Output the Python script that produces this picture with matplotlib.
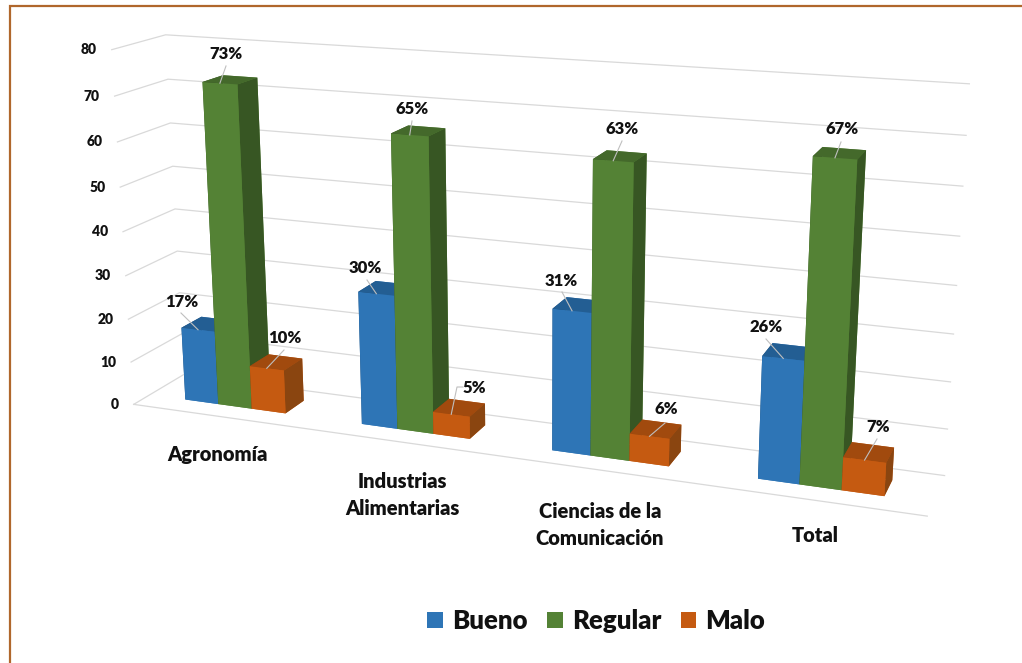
import matplotlib
matplotlib.use("Agg")
import matplotlib.pyplot as plt
from matplotlib.patches import Patch
from mpl_toolkits.mplot3d import proj3d

plt.rcParams["font.family"] = ["Lato", "DejaVu Sans"]
plt.rcParams["font.weight"] = 800

CATEGORIES = ["Agronomía", "Industrias\nAlimentarias", "Ciencias de la\nComunicación", "Total"]
SERIES = ["Bueno", "Regular", "Malo"]
BUENO = [17, 30, 31, 26]
REGULAR = [73, 65, 63, 67]
MALO = [10, 5, 6, 7]
Y_TICKS = list(range(0, 90, 10))

# front, top, right side
FACE_COLORS = {
    "Bueno": ("#2E75B6", "#235E93", "#1F4E79"),
    "Regular": ("#548235", "#44692B", "#375623"),
    "Malo": ("#C55A11", "#A14A0E", "#8A4510"),
}
GRID = "#D9D9D9"
BORDER = "#B0672C"
INK = "#111111"

# layout in reference pixels (x right, y down)
CAT_LABEL_XY = [(217, 455), (402, 495), (600, 525), (815, 535)]
VALUE_LABEL_XY = {
    "Bueno": [(182, 302), (365, 268), (561, 281), (766, 327)],
    "Regular": [(226, 54), (412, 109), (622, 129), (842, 129)],
    "Malo": [(285, 338), (474, 388), (666, 409), (878, 427)],
}
LEADER_START = {
    "Bueno": [(181, 313), (367, 280), (562, 292), (766, 339)],
    "Regular": [(226, 66), (412, 121), (622, 141), (841, 142)],
    "Malo": [(284, 350), (457, 387), (665, 423), (877, 439)],
}

# camera and bar placement fitted against the reference
ELEV, AZIM, ROLL, FOCAL = 15.6502, -68.9505, 0.1686, 0.3377
BOX = (4, 0.4924, 1.8177)
ZOOM = 0.8926
SHIFT_X, SHIFT_Y = -7.3534, -60.5321
BAR_START, BAR_W, BAR_FRONT, BAR_BACK = 0.2092, 0.1922, 0.3150, 0.7162


def make_axes(fig):
    """3D axes as a 1022 px square, moved so the frame lands on the reference."""
    left = SHIFT_X / 1022
    bottom = ((663 - 1022) / 2 - SHIFT_Y) / 663
    ax = fig.add_axes([left, bottom, 1, 1022 / 663], projection="3d")
    ax.computed_zorder = False
    ax.set_xlim(0, 4, view_margin=0)
    ax.set_ylim(0, 1, view_margin=0)
    ax.set_zlim(0, 80, view_margin=0)
    ax.view_init(ELEV, AZIM, ROLL)
    ax.set_box_aspect(BOX, zoom=ZOOM)
    ax.set_proj_type("persp", focal_length=FOCAL)
    ax.set_axis_off()
    return ax


def to_overlay(ax, overlay, x, y, z):
    """3D data point to overlay (reference pixel) coordinates."""
    px, py, _ = proj3d.proj_transform(x, y, z, ax.get_proj())
    disp = ax.transData.transform((px, py))
    return overlay.transData.inverted().transform(disp)


def draw_grid(ax):
    for z in Y_TICKS:
        ax.plot([0, 0, 4], [0, 1, 1], [z, z, z], color=GRID, lw=0.9, zorder=1)
    # front edge of the floor only, the right side stays open
    ax.plot([0, 4], [0, 0], [0, 0], color=GRID, lw=0.9, zorder=1)


def draw_bars(ax, overlay):
    values = {"Bueno": BUENO, "Regular": REGULAR, "Malo": MALO}
    order = 2
    for i in range(len(CATEGORIES)):
        for j, name in enumerate(SERIES):
            x = i + BAR_START + j * BAR_W
            front, top, side = FACE_COLORS[name]
            # bar3d face order: bottom, top, front, back, left, right
            ax.bar3d(
                x, BAR_FRONT, 0, BAR_W, BAR_BACK - BAR_FRONT, values[name][i],
                color=[front, top, front, front, side, side],
                shade=False, zorder=order, linewidth=0,
            )
            order += 1

            end = to_overlay(ax, overlay, x + BAR_W / 2, BAR_FRONT, values[name][i])
            start = LEADER_START[name][i]
            xs, ys = [start[0], end[0]], [start[1], end[1]]
            if name == "Malo" and i == 1:
                xs.insert(0, start[0] + 6)
                ys.insert(0, start[1])
            overlay.plot(xs, ys, color="#BFBFBF", lw=0.8, zorder=3)
            lx, ly = VALUE_LABEL_XY[name][i]
            overlay.text(lx, ly, f"{values[name][i]}%", ha="center", va="center",
                         fontsize=12, color=INK, zorder=4)


def draw_labels(ax, overlay):
    for z in Y_TICKS:
        x, y = to_overlay(ax, overlay, 0, 0, z)
        overlay.text(x - 15, y, str(z), ha="right", va="center", fontsize=10, color=INK)
    for name, (x, y) in zip(CATEGORIES, CAT_LABEL_XY):
        overlay.text(x, y, name, ha="center", va="center", fontsize=14.5,
                     color=INK, linespacing=1.55)


def main():
    fig = plt.figure(figsize=(10.22, 6.63), dpi=100, facecolor="white")
    ax = make_axes(fig)
    ax.apply_aspect()

    overlay = fig.add_axes([0, 0, 1, 1], zorder=5)
    overlay.set_xlim(0, 1022)
    overlay.set_ylim(663, 0)
    overlay.axis("off")

    # only the top and left edges of the frame are in the picture
    overlay.plot([9.5, 9.5, 1022], [663, 6, 6], color=BORDER, lw=1.6, solid_joinstyle="miter")

    draw_grid(ax)
    draw_bars(ax, overlay)
    draw_labels(ax, overlay)

    handles = [Patch(facecolor=FACE_COLORS[s][0], edgecolor="none", label=s) for s in SERIES]
    overlay.legend(
        handles=handles, ncol=3, frameon=False, fontsize=18.5,
        loc="center", bbox_to_anchor=(596, 621), bbox_transform=overlay.transData,
        handlelength=0.62, handleheight=0.62, handletextpad=0.35, columnspacing=0.76,
        labelcolor=INK,
    )

    fig.savefig("out.png", dpi=100)


if __name__ == "__main__":
    main()
